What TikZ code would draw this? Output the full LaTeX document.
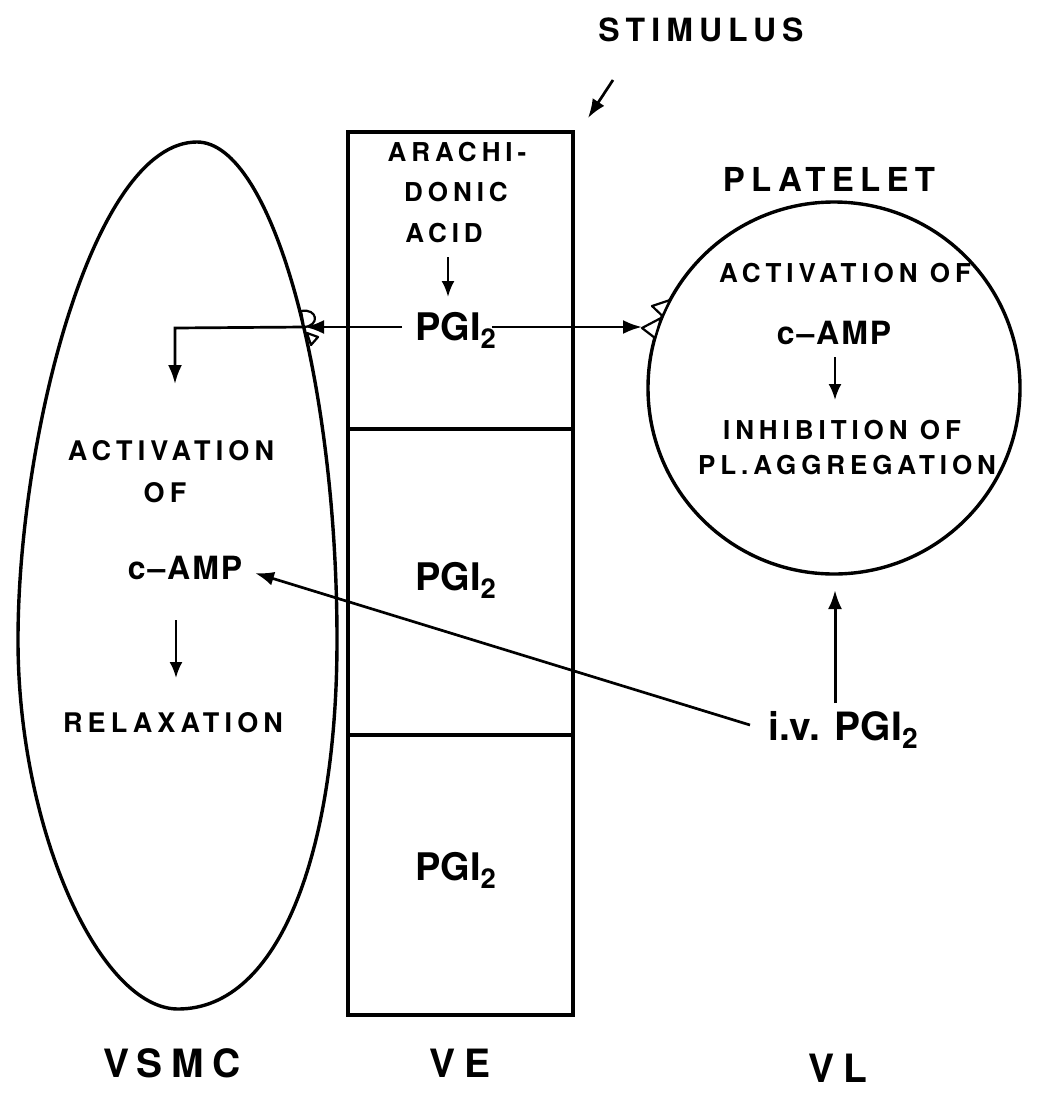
\documentclass[tikz,border=0pt]{standalone}
\usepackage{fontspec}
\setmainfont{TeX Gyre Heros}
\newfontfamily\wideface[LetterSpace=19]{TeX Gyre Heros}
\newfontfamily\footface[LetterSpace=22]{TeX Gyre Heros}
\newfontfamily\midface[LetterSpace=6]{TeX Gyre Heros}
\usetikzlibrary{arrows.meta,calc}
\newcommand\subtwo{\raisebox{-0.42ex}{\scalebox{0.72}{2}}}
\tikzset{
  lbl/.style={font=\wideface\bfseries\fontsize{26}{28}\selectfont, inner sep=0pt, anchor=base},
  vlbl/.style={font=\wideface\bfseries\fontsize{27}{28}\selectfont, inner sep=0pt, anchor=base},
  head/.style={font=\wideface\bfseries\fontsize{32}{36}\selectfont, inner sep=0pt, anchor=base},
  foot/.style={font=\footface\bfseries\fontsize{39}{42}\selectfont, inner sep=0pt, anchor=base},
  camp/.style={font=\midface\bfseries\fontsize{32}{36}\selectfont, inner sep=0pt, anchor=base},
  pgi/.style={font=\bfseries\fontsize{38}{42}\selectfont, inner sep=0pt, anchor=base west},
  membrane/.style={line width=3.4pt},
  arr/.style={line width=2.7pt, -{Latex[length=19pt,width=14pt]}},
  sarr/.style={line width=2.5pt, -{Latex[length=16pt,width=13pt]}},
  rec/.style={line width=2.2pt, fill=white, line join=round}
}
\begin{document}
\begin{tikzpicture}[x=1pt,y=-1pt]
\useasboundingbox (0,0) rectangle (1038,1103);

% VE column
\node[draw, membrane, minimum width=225pt, minimum height=883pt, inner sep=0pt] (ve) at (460.5,573.5) {};
\draw[membrane] (ve.west |- 0,429) -- (ve.east |- 0,429);
\draw[membrane] (ve.west |- 0,735) -- (ve.east |- 0,735);

% VSMC cell
\draw[membrane] (197,142) .. controls (272,142) and (337,380) .. (337,640)
  .. controls (337,850) and (280,1009) .. (178,1009)
  .. controls (100,1009) and (18,830) .. (18,640)
  .. controls (18,440) and (92,142) .. (197,142) -- cycle;

% Platelet
\node[draw, membrane, circle, minimum size=372pt, inner sep=0pt] (pl) at (834,388) {};

% texts
\node[head] (stim) at (701,41) {STIMULUS};
\node[lbl] (ara1) at (457,161) {ARACHI-};
\node[lbl] (ara2) at (456,201) {DONIC};
\node[lbl] (ara3) at (444,242) {ACID};
\node[pgi] (pgia) at (415,340) {PGI\subtwo};
\node[pgi] (pgib) at (415,590) {PGI\subtwo};
\node[pgi] (pgic) at (415,880) {PGI\subtwo};
\node[head, font=\wideface\bfseries\fontsize{33}{36}\selectfont] (plt) at (829,191) {PLATELET};
\node[lbl] (pact) at (845,282) {ACTIVATION OF};
\node[camp] (pcamp) at (834,344) {c–AMP};
\node[lbl] (pinh) at (842,439) {INHIBITION OF};
\node[lbl] (pagg) at (847,474) {PL.AGGREGATION};
\node[vlbl] (vact) at (171,460) {ACTIVATION};
\node[vlbl] (vof) at (165,502) {OF};
\node[camp] (vcamp) at (185,579) {c–AMP};
\node[vlbl] (vrel) at (173,732) {RELAXATION};
\node[pgi, font=\bfseries\fontsize{39}{42}\selectfont] (iv) at (768,740) {i.v. PGI\subtwo};
\node[foot] (vsmc) at (172,1077) {VSMC};
\node[foot] (vel) at (460,1077) {VE};
\node[foot] (vl) at (838,1082) {VL};

% connector coordinates
\coordinate (s1) at (613,80);
\coordinate (s2) at (588,118);
\coordinate (a1) at (448,257);
\coordinate (a2) at (448,297);
\coordinate (pL) at (402,327);
\coordinate (pR) at (492,327);
\coordinate (rv) at (305,327);
\coordinate (rp) at (642,327);
\coordinate (vin) at (175,328);
\coordinate (vdn) at (175,384);
\coordinate (c1) at (176,620);
\coordinate (c2) at (176,678);
\coordinate (p1) at (835,357);
\coordinate (p2) at (835,400);
\coordinate (ivL) at (750,725);
\coordinate (campR) at (255,573);
\coordinate (ivU) at (835,703);
\coordinate (plB) at (835,590);

% arrows
\draw[arr] (s1) -- (s2);
\draw[sarr] (a1) -- (a2);
\draw[arr] (pL) -- (rv);
\draw[arr] (rv) -- (vin) -- (vdn);
\draw[arr] (pR) -- (rp);
\draw[sarr] (c1) -- (c2);
\draw[sarr] (p1) -- (p2);
\draw[arr] (ivL) -- (campR);
\draw[arr, line width=3pt] (ivU) -- (plB);

% receptors on VSMC
\draw[rec] (301,311) .. controls (318,308) and (320,326) .. (304,327) -- cycle;
\draw[rec] (307,333) -- (318,337) -- (311,345) -- cycle;

% receptors on platelet
\draw[rec] (670,300) -- (662.5,316) -- (652,306) -- cycle;
\draw[rec] (661,318) -- (655,338) -- (642,328) -- cycle;
\end{tikzpicture}
\end{document}
